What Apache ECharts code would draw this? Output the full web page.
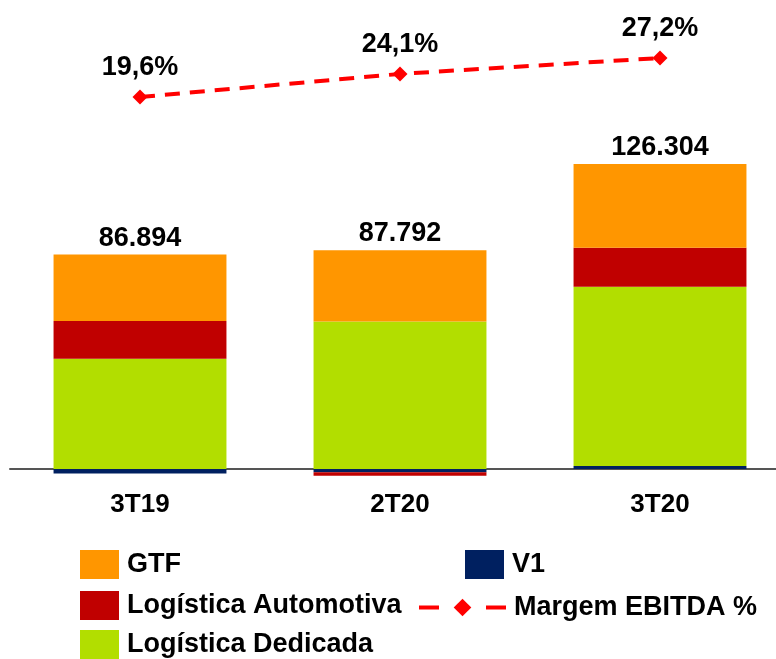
<!DOCTYPE html>
<html>
<head>
<meta charset="utf-8">
<script src="https://cdn.jsdelivr.net/npm/echarts@6/dist/echarts.min.js"></script>
<style>
  html, body { margin: 0; padding: 0; background: #fff; }
  #chart { width: 776px; height: 659px; }
</style>
</head>
<body>
<div id="chart"></div>
<script>
var chart = echarts.init(document.getElementById('chart'));

// dados (mil R$)
var periodos = ['3T19', '2T20', '3T20'];
var v1 = [-1.9, -1.4, 1.2];
var logDedicada = [45.6, 61.1, 74.3];
var logAutomotiva = [15.7, -1.4, 16.1];
var gtf = [27.5, 29.5, 34.7];
var totais = ['86.894', '87.792', '126.304'];
var margem = [19.6, 24.1, 27.2];
var margemLabels = ['19,6%', '24,1%', '27,2%'];

var fonte = 'Liberation Sans, Arial, sans-serif';

function legenda(nome, left, top, w, h) {
    return {
        data: [nome],
        left: left,
        top: top,
        padding: 0,
        icon: 'rect',
        itemWidth: w,
        itemHeight: h,
        textStyle: {
            fontFamily: fonte,
            fontWeight: 'bold',
            fontSize: 27,
            color: '#000',
            padding: [0, 0, 0, 3]
        }
    };
}

var legMargem = legenda('Margem EBITDA %', 417, 594, 87, 22);
delete legMargem.icon;
legMargem.lineStyle = { type: [20, 47], width: 4 };

var option = {
    animation: false,
    legend: [
        legenda('GTF', 80, 550, 39, 29),
        legenda('V1', 465, 550, 39, 29),
        legenda('Logística Automotiva', 80, 591, 39, 29),
        legMargem,
        legenda('Logística Dedicada', 80, 630, 39, 29)
    ],
    grid: {
        left: 10,
        right: -14,
        top: 20,
        bottom: 178,
        outerBoundsMode: 'none'
    },
    xAxis: {
        type: 'category',
        data: periodos,
        axisTick: { show: false },
        axisLine: { onZero: true, lineStyle: { color: '#555', width: 2 } },
        axisLabel: {
            margin: 11,
            fontFamily: fonte,
            fontWeight: 'bold',
            fontSize: 26,
            color: '#000'
        }
    },
    yAxis: [{
        type: 'value',
        min: -5,
        max: 186,
        show: false
    }, {
        type: 'value',
        min: -55.2,
        max: 34.6,
        show: false
    }],
    series: [{
        name: 'V1',
        type: 'bar',
        stack: 'total',
        barWidth: '66.5%',
        itemStyle: { color: '#002060' },
        data: v1
    }, {
        name: 'Logística Dedicada',
        type: 'bar',
        stack: 'total',
        itemStyle: { color: '#B2DE00' },
        data: logDedicada
    }, {
        name: 'Logística Automotiva',
        type: 'bar',
        stack: 'total',
        itemStyle: { color: '#C00000' },
        data: logAutomotiva
    }, {
        name: 'GTF',
        type: 'bar',
        stack: 'total',
        itemStyle: { color: '#FF9600' },
        label: {
            show: true,
            position: 'top',
            distance: 3,
            fontFamily: fonte,
            fontWeight: 'bold',
            fontSize: 27,
            color: '#000',
            formatter: function (p) { return totais[p.dataIndex]; }
        },
        data: gtf
    }, {
        name: 'Margem EBITDA %',
        type: 'line',
        yAxisIndex: 1,
        symbol: 'diamond',
        symbolSize: 15,
        itemStyle: { color: '#FF0000' },
        lineStyle: { color: '#FF0000', width: 4, type: [15, 10] },
        label: {
            show: true,
            position: 'top',
            distance: 8,
            fontFamily: fonte,
            fontWeight: 'bold',
            fontSize: 27,
            color: '#000',
            formatter: function (p) { return margemLabels[p.dataIndex]; }
        },
        z: 5,
        data: margem
    }]
};

chart.setOption(option);
</script>
</body>
</html>
